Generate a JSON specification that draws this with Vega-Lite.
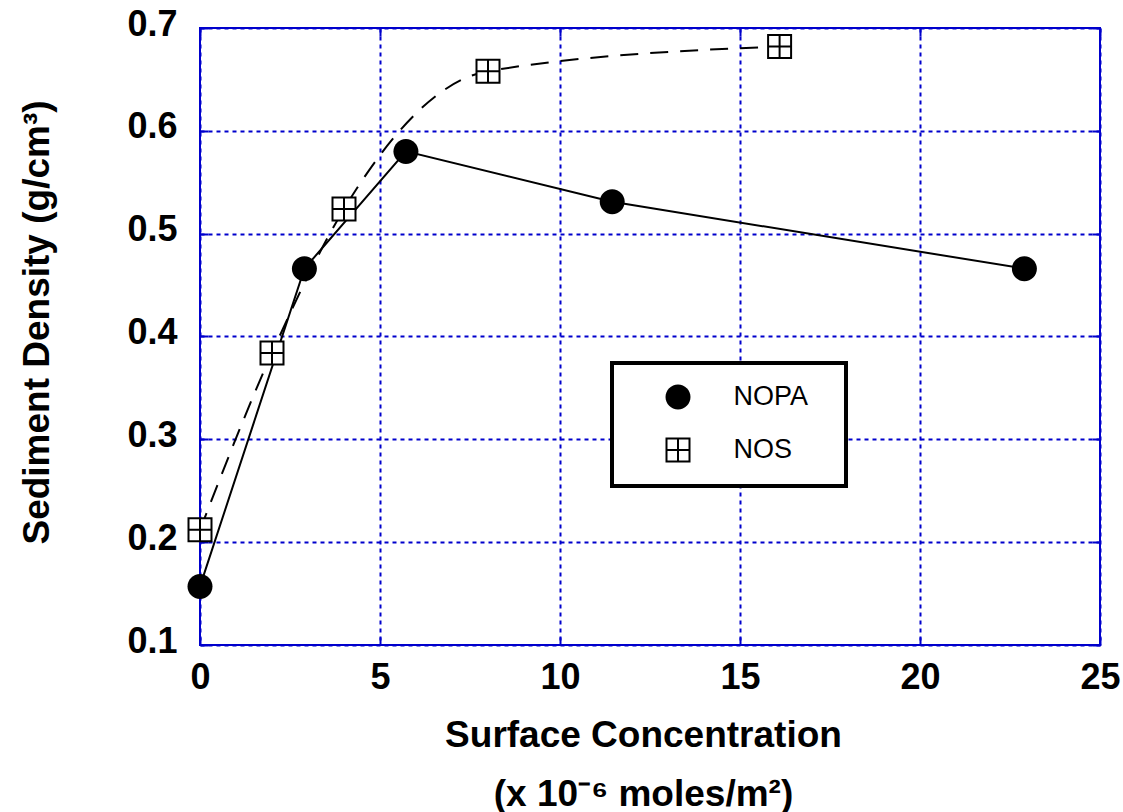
{
  "$schema": "https://vega.github.io/schema/vega-lite/v6.json",
  "width": 900,
  "height": 617,
  "autosize": {"type": "none"},
  "padding": {"left": 200, "top": 28, "right": 23, "bottom": 167},
  "background": "white",
  "config": {
    "view": {"stroke": "#0000CC", "strokeWidth": 2},
    "font": "Liberation Sans",
    "legend": {"strokeWidth": 4},
    "axis": {
      "labelFont": "Liberation Sans",
      "labelFontWeight": "bold",
      "labelFontSize": 36,
      "labelColor": "black",
      "labelFlush": false,
      "titleFont": "Liberation Sans",
      "titleFontWeight": "bold",
      "titleFontSize": 37,
      "titleColor": "black",
      "domain": false,
      "tickColor": "#0000CC",
      "tickWidth": 2,
      "tickSize": -8,
      "gridColor": "#0000CC",
      "gridDash": [4, 4],
      "gridWidth": 2,
      "gridOpacity": 1
    }
  },
  "data": {
    "values": [
      {"series": "NOPA", "x": 0, "y": 0.157},
      {"series": "NOPA", "x": 2.9, "y": 0.466},
      {"series": "NOPA", "x": 5.72, "y": 0.58},
      {"series": "NOPA", "x": 11.45, "y": 0.531},
      {"series": "NOPA", "x": 22.9, "y": 0.466},
      {"series": "NOS", "x": 0, "y": 0.212},
      {"series": "NOS", "x": 2.0, "y": 0.384},
      {"series": "NOS", "x": 4.0, "y": 0.524},
      {"series": "NOS", "x": 8.0, "y": 0.658},
      {"series": "NOS", "x": 16.1, "y": 0.682}
    ]
  },
  "layer": [
    {
      "transform": [{"filter": "datum.series === 'NOPA'"}],
      "mark": {"type": "line", "interpolate": "linear", "stroke": "black", "strokeWidth": 2},
      "encoding": {
        "x": {
          "field": "x", "type": "quantitative",
          "scale": {"domain": [0, 25], "nice": false, "zero": false},
          "axis": {
            "values": [0, 5, 10, 15, 20, 25],
            "labelPadding": 51,
            "labelBaseline": "alphabetic",
            "title": ["Surface Concentration", "(x 10⁻⁶ moles/m²)"],
            "titleBaseline": "alphabetic",
            "titleX": 443,
            "titleY": 101,
            "titleLineHeight": 59
          }
        },
        "y": {
          "field": "y", "type": "quantitative",
          "scale": {"domain": [0.1, 0.7], "nice": false, "zero": false},
          "axis": {
            "values": [0.1, 0.2, 0.3, 0.4, 0.5, 0.6, 0.7],
            "format": ".1f",
            "labelPadding": 31,
            "labelOffset": -4,
            "title": "Sediment Density (g/cm³)",
            "titleBaseline": "alphabetic",
            "titleX": -152,
            "titleY": 294
          }
        }
      }
    },
    {
      "transform": [{"filter": "datum.series === 'NOS'"}],
      "mark": {"type": "line", "interpolate": "monotone", "stroke": "black", "strokeWidth": 2, "strokeDash": [18, 12]},
      "encoding": {
        "x": {"field": "x", "type": "quantitative", "axis": null},
        "y": {"field": "y", "type": "quantitative", "axis": null}
      }
    },
    {
      "transform": [{"filter": "datum.series === 'NOS'"}],
      "mark": {"type": "point", "shape": "square", "size": 500, "filled": true, "fill": "white", "opacity": 1, "strokeWidth": 0},
      "encoding": {
        "x": {"field": "x", "type": "quantitative", "axis": null},
        "y": {"field": "y", "type": "quantitative", "axis": null}
      }
    },
    {
      "mark": {"type": "point", "size": 625, "filled": true, "fill": "black", "opacity": 1, "strokeWidth": 0},
      "encoding": {
        "x": {
          "field": "x", "type": "quantitative",
          "axis": {"orient": "top", "labels": false, "grid": false, "title": null, "values": [0, 5, 10, 15, 20, 25]}
        },
        "y": {
          "field": "y", "type": "quantitative",
          "axis": {"orient": "right", "labels": false, "grid": false, "title": null, "values": [0.1, 0.2, 0.3, 0.4, 0.5, 0.6, 0.7]}
        },
        "shape": {
          "field": "series", "type": "nominal",
          "scale": {
            "domain": ["NOPA", "NOS"],
            "range": [
              "M-1,0A1,1 0 1,0 1,0A1,1 0 1,0 -1,0Z",
              "M-1,-1H1V1H-1ZM-0.84,-0.84V-0.08H-0.08V-0.84ZM0.08,-0.84V-0.08H0.84V-0.84ZM-0.84,0.08V0.84H-0.08V0.08ZM0.08,0.08V0.84H0.84V0.08Z"
            ]
          },
          "legend": {
            "title": "\u00a0",
            "titleOrient": "right",
            "titlePadding": 17,
            "titleFontSize": 27,
            "orient": "none",
            "legendX": 412,
            "legendY": 335,
            "padding": 20.5,
            "rowPadding": 22,
            "fillColor": "white",
            "strokeColor": "black",
            "symbolSize": 625,
            "symbolFillColor": "black",
            "symbolOffset": 32,
            "labelOffset": 42,
            "labelFont": "Liberation Sans",
            "labelFontSize": 27,
            "labelFontWeight": "normal",
            "labelColor": "black"
          }
        }
      }
    }
  ],
  "resolve": {"axis": {"x": "independent", "y": "independent"}}
}
